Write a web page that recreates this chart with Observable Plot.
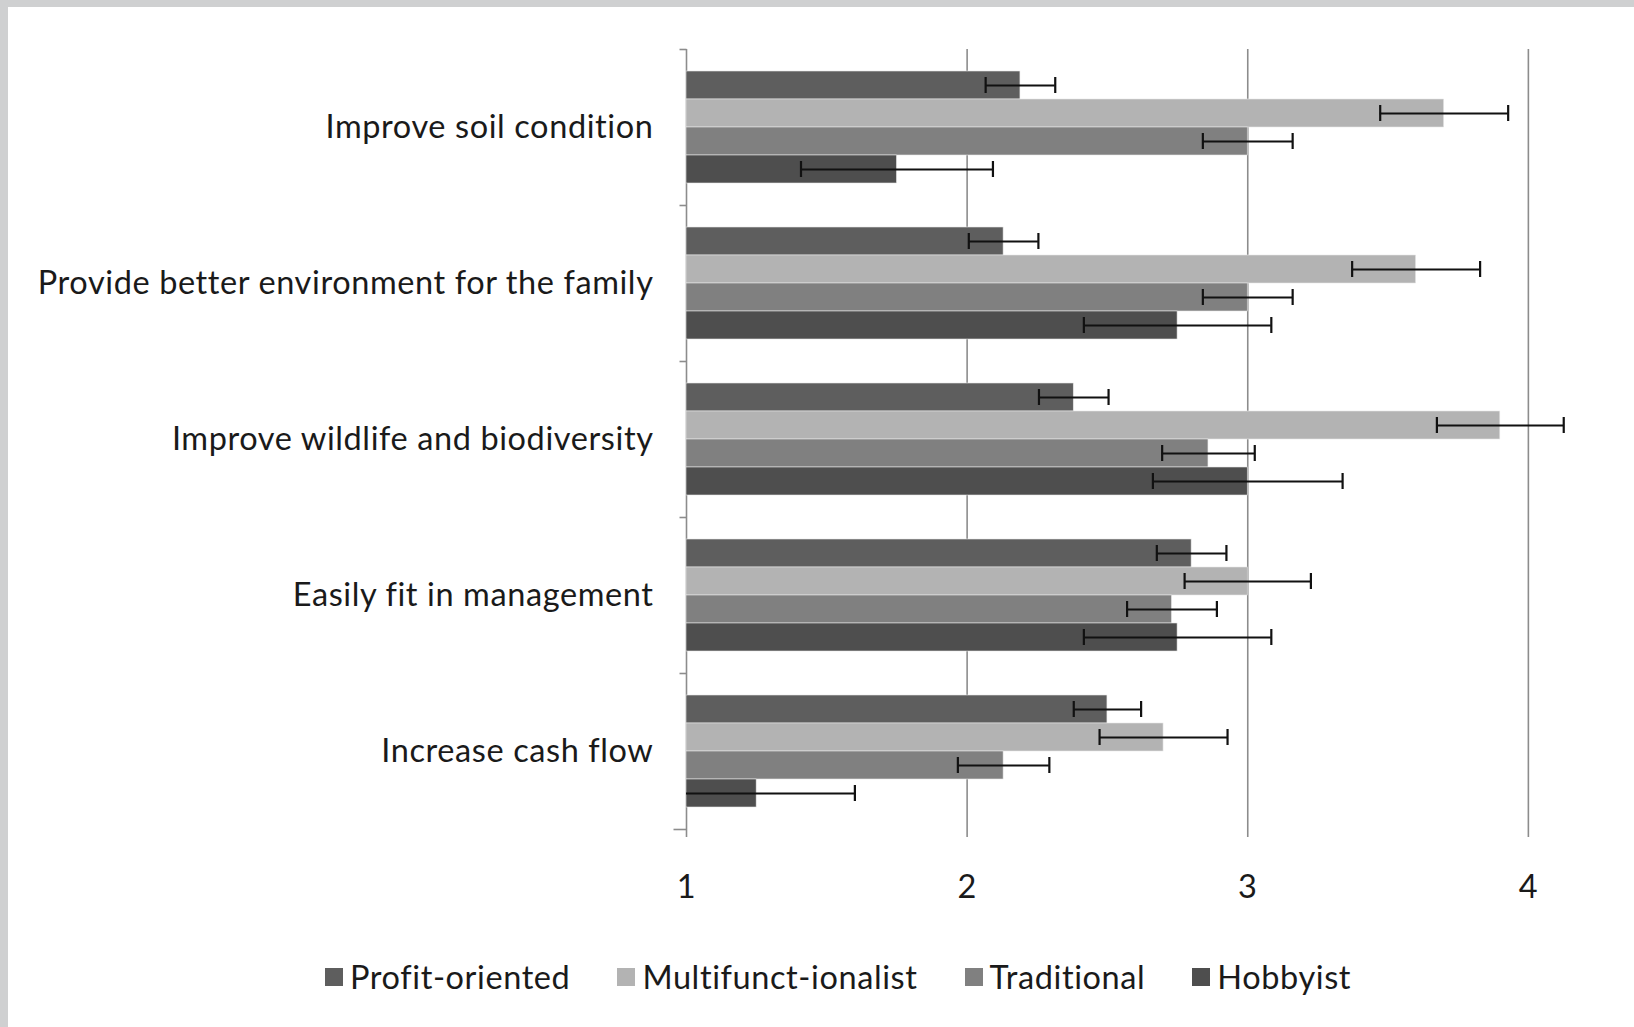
<!DOCTYPE html>
<html>
<head>
<meta charset="utf-8">
<script src="https://cdn.jsdelivr.net/npm/d3@7"></script>
<script src="https://cdn.jsdelivr.net/npm/@observablehq/plot@0.6"></script>
<style>
  html, body { margin: 0; padding: 0; background: #cfd0d1; }
  #page { position: absolute; left: 8px; top: 7px; width: 1626px; height: 1020px; background: #ffffff; }
  #chart { position: absolute; left: 0; top: 0; }
  #chart svg text { letter-spacing: 0.6px; }
  #legend { position: absolute; left: 317px; top: 950px; display: flex; gap: 47px; align-items: center;
            font-family: Lato, sans-serif; font-size: 32.5px; letter-spacing: 0.6px; color: #1a1a1a; line-height: 40px; }
  .item { display: flex; align-items: center; gap: 7px; }
  .sw { width: 18px; height: 18px; display: inline-block; }
</style>
</head>
<body>
<div id="page">
  <div id="chart"></div>
  <div id="legend"></div>
</div>
<script>
// ---- data ----
const categories = [
  "Improve soil condition",
  "Provide better environment for the family",
  "Improve wildlife and biodiversity",
  "Easily fit in management",
  "Increase cash flow"
];
const series = ["Profit-oriented", "Multifunct-ionalist", "Traditional", "Hobbyist"];
const seriesColors = ["#5e5e5e", "#b3b3b3", "#808080", "#4e4e4e"];

const profitOriented    = [2.19, 2.13, 2.38, 2.80, 2.50];
const multifunctional   = [3.70, 3.60, 3.90, 3.00, 2.70];
const traditional       = [3.00, 3.00, 2.86, 2.73, 2.13];
const hobbyist          = [1.75, 2.75, 3.00, 2.75, 1.25];

const profitOrientedErr  = [0.124, 0.124, 0.124, 0.124, 0.120];
const multifunctionalErr = [0.228, 0.228, 0.226, 0.225, 0.228];
const traditionalErr     = [0.160, 0.160, 0.165, 0.160, 0.163];
const hobbyistErr        = [0.342, 0.334, 0.338, 0.334, 0.350];

const xTicks = [1, 2, 3, 4];
const xDomain = [1, 4.2];

// ---- table ----
const values = [profitOriented, multifunctional, traditional, hobbyist];
const errors = [profitOrientedErr, multifunctionalErr, traditionalErr, hobbyistErr];
const xMin = xDomain[0];
const rows = [];
series.forEach((s, j) => {
  categories.forEach((c, i) => {
    const v = values[j][i], e = errors[j][i];
    rows.push({category: c, series: s, value: v, lo: v - e, hi: v + e});
  });
});

const tickSymbol = (len) => ({draw(ctx) { ctx.moveTo(-len, 0); ctx.lineTo(0, 0); }});
const gridColor = "#8c8c8c";

const chart = Plot.plot({
  width: 1626,
  height: 913,
  marginLeft: 678,
  marginRight: 50,
  marginTop: 40,
  marginBottom: 89,
  style: {fontFamily: "Lato, sans-serif", fontSize: "32.5px", color: "#1a1a1a", background: "white"},
  x: {domain: xDomain, axis: null},
  y: {domain: series, paddingInner: 0, paddingOuter: 0.76, axis: null},
  fy: {domain: categories, padding: 0, axis: null},
  color: {domain: series, range: seriesColors},
  marks: [
    Plot.ruleX(xTicks, {stroke: gridColor, strokeWidth: 1.6}),
    Plot.barX(rows, {fy: "category", y: "series", x1: () => xMin, x2: "value", fill: "series",
                     stroke: "#e8e8e8", strokeWidth: 0.6}),
    Plot.ruleY(rows, {fy: "category", y: "series", x1: d => Math.max(xMin, d.lo), x2: "hi",
                      stroke: "#111", strokeWidth: 2.2}),
    Plot.tickX(rows.filter(d => d.lo >= xMin), {fy: "category", y: "series", x: "lo",
                      stroke: "#111", strokeWidth: 2.2, insetTop: 6, insetBottom: 6}),
    Plot.tickX(rows, {fy: "category", y: "series", x: "hi",
                      stroke: "#111", strokeWidth: 2.2, insetTop: 6, insetBottom: 6}),
    Plot.dot(categories, {fy: d => d, x: () => xMin, frameAnchor: "top", symbol: tickSymbol(7),
                          fill: "none", stroke: gridColor, strokeWidth: 1.6}),
    Plot.dot(categories.slice(-1), {fy: d => d, x: () => xMin, frameAnchor: "bottom", symbol: tickSymbol(13),
                          fill: "none", stroke: gridColor, strokeWidth: 1.6}),
    Plot.axisX(xTicks, {anchor: "bottom", line: true, tickSize: 8, tickPadding: 37, stroke: gridColor,
                        strokeWidth: 1.6, fill: "#1a1a1a", tickFormat: d3.format("d"), label: null}),
    Plot.axisFy({anchor: "left", tickSize: 0, tickPadding: 33, fill: "#1a1a1a", label: null})
  ]
});
document.getElementById("chart").appendChild(chart);

// ---- legend ----
const legend = document.getElementById("legend");
series.forEach((s, j) => {
  const item = document.createElement("div");
  item.className = "item";
  const sw = document.createElement("span");
  sw.className = "sw";
  sw.style.background = seriesColors[j];
  const t = document.createElement("span");
  t.textContent = s;
  item.appendChild(sw);
  item.appendChild(t);
  legend.appendChild(item);
});
</script>
</body>
</html>
